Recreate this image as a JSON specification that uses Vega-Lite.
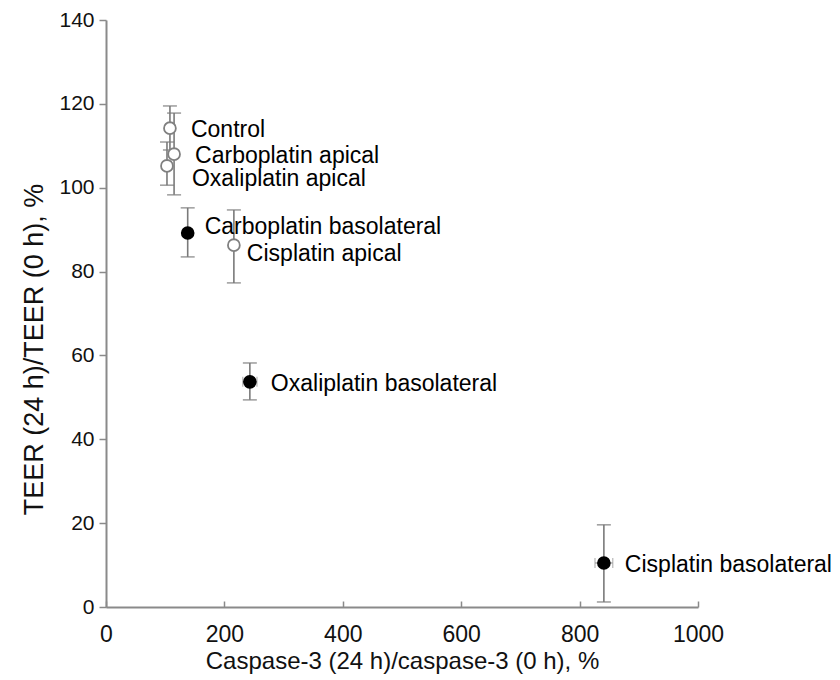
{
  "$schema": "https://vega.github.io/schema/vega-lite/v6.json",
  "autosize": "none",
  "width": 592,
  "height": 587,
  "padding": {"left": 106, "top": 20, "right": 142, "bottom": 73},
  "background": "white",
  "config": {
    "view": {"stroke": null},
    "font": "Liberation Sans",
    "axis": {
      "grid": false,
      "domainColor": "#8a8a8a",
      "domainWidth": 2,
      "tickColor": "#8a8a8a",
      "tickWidth": 1.5,
      "labelFont": "Liberation Sans",
      "titleFont": "Liberation Sans",
      "labelColor": "#111",
      "titleColor": "#111",
      "titleFontWeight": "normal",
      "labelFlush": false
    }
  },
  "data": {
    "values": [
      {"name": "Control", "x": 108, "y": 114.2, "ylo": 109, "yhi": 119.5, "xlo": null, "xhi": null, "side": "apical"},
      {"name": "Carboplatin apical", "x": 115, "y": 108, "ylo": 98.3, "yhi": 117.8, "xlo": null, "xhi": null, "side": "apical"},
      {"name": "Oxaliplatin apical", "x": 103, "y": 105.2, "ylo": 100.6, "yhi": 110.9, "xlo": null, "xhi": null, "side": "apical"},
      {"name": "Carboplatin basolateral", "x": 138, "y": 89.2, "ylo": 83.5, "yhi": 95.2, "xlo": null, "xhi": null, "side": "basolateral"},
      {"name": "Cisplatin apical", "x": 216, "y": 86.3, "ylo": 77.3, "yhi": 94.7, "xlo": null, "xhi": null, "side": "apical"},
      {"name": "Oxaliplatin basolateral", "x": 243, "y": 53.7, "ylo": 49.4, "yhi": 58.2, "xlo": 231, "xhi": 255, "side": "basolateral"},
      {"name": "Cisplatin basolateral", "x": 841, "y": 10.5, "ylo": 1.2, "yhi": 19.6, "xlo": 826, "xhi": 856, "side": "basolateral"}
    ]
  },
  "encoding": {
    "x": {
      "field": "x", "type": "quantitative",
      "scale": {"domain": [0, 1000], "nice": false},
      "axis": {"values": [0, 200, 400, 600, 800, 1000], "format": "d", "labelFlush": false, "tickSize": -6, "labelPadding": 22, "labelFontSize": 23, "titleFontSize": 24, "title": "Caspase-3 (24 h)/caspase-3 (0 h), %", "titlePadding": 3}
    },
    "y": {
      "field": "y", "type": "quantitative",
      "scale": {"domain": [0, 140], "nice": false},
      "axis": {"values": [0, 20, 40, 60, 80, 100, 120, 140], "labelFlush": false, "tickSize": 7, "labelPadding": 5, "labelFontSize": 21, "titleFontSize": 27, "titleY": 329, "title": "TEER (24 h)/TEER (0 h), %", "titlePadding": 10}
    }
  },
  "layer": [
    {
      "mark": {"type": "rule", "color": "#7a7a7a", "strokeWidth": 1.6},
      "encoding": {"y": {"field": "ylo", "type": "quantitative"}, "y2": {"field": "yhi"}}
    },
    {
      "mark": {"type": "tick", "orient": "horizontal", "color": "#7a7a7a", "thickness": 1.6, "size": 14},
      "encoding": {"y": {"field": "ylo", "type": "quantitative"}}
    },
    {
      "mark": {"type": "tick", "orient": "horizontal", "color": "#7a7a7a", "thickness": 1.6, "size": 14},
      "encoding": {"y": {"field": "yhi", "type": "quantitative"}}
    },
    {
      "transform": [{"filter": "datum.xlo != null"}],
      "mark": {"type": "rule", "color": "#a0a0a0", "strokeWidth": 1.3},
      "encoding": {"x": {"field": "xlo", "type": "quantitative"}, "x2": {"field": "xhi"}}
    },
    {
      "transform": [{"filter": "datum.xlo != null"}],
      "mark": {"type": "tick", "orient": "vertical", "color": "#a0a0a0", "thickness": 1.3, "size": 10},
      "encoding": {"x": {"field": "xlo", "type": "quantitative"}}
    },
    {
      "transform": [{"filter": "datum.xlo != null"}],
      "mark": {"type": "tick", "orient": "vertical", "color": "#a0a0a0", "thickness": 1.3, "size": 10},
      "encoding": {"x": {"field": "xhi", "type": "quantitative"}}
    },
    {
      "mark": {"type": "point", "shape": "circle", "size": 140, "strokeWidth": 1.8, "opacity": 1},
      "encoding": {
        "fill": {"field": "side", "type": "nominal", "scale": {"domain": ["apical", "basolateral"], "range": ["#ffffff", "#000000"]}, "legend": null},
        "stroke": {"field": "side", "type": "nominal", "scale": {"domain": ["apical", "basolateral"], "range": ["#808080", "#000000"]}, "legend": null}
      }
    },
    {
      "transform": [{"filter": "indexof(['Control', 'Carboplatin apical', 'Oxaliplatin basolateral', 'Cisplatin basolateral'], datum.name) >= 0"}],
      "mark": {"type": "text", "align": "left", "baseline": "middle", "fontSize": 23, "font": "Liberation Sans", "color": "#000", "dx": 21, "dy": 2},
      "encoding": {"text": {"field": "name"}}
    },
    {
      "transform": [{"filter": "datum.name == 'Oxaliplatin apical'"}],
      "mark": {"type": "text", "align": "left", "baseline": "middle", "fontSize": 23, "font": "Liberation Sans", "color": "#000", "dx": 25, "dy": 13},
      "encoding": {"text": {"field": "name"}}
    },
    {
      "transform": [{"filter": "datum.name == 'Carboplatin basolateral'"}],
      "mark": {"type": "text", "align": "left", "baseline": "middle", "fontSize": 23, "font": "Liberation Sans", "color": "#000", "dx": 17, "dy": -6},
      "encoding": {"text": {"field": "name"}}
    },
    {
      "transform": [{"filter": "datum.name == 'Cisplatin apical'"}],
      "mark": {"type": "text", "align": "left", "baseline": "middle", "fontSize": 23, "font": "Liberation Sans", "color": "#000", "dx": 13, "dy": 9},
      "encoding": {"text": {"field": "name"}}
    }
  ]
}
